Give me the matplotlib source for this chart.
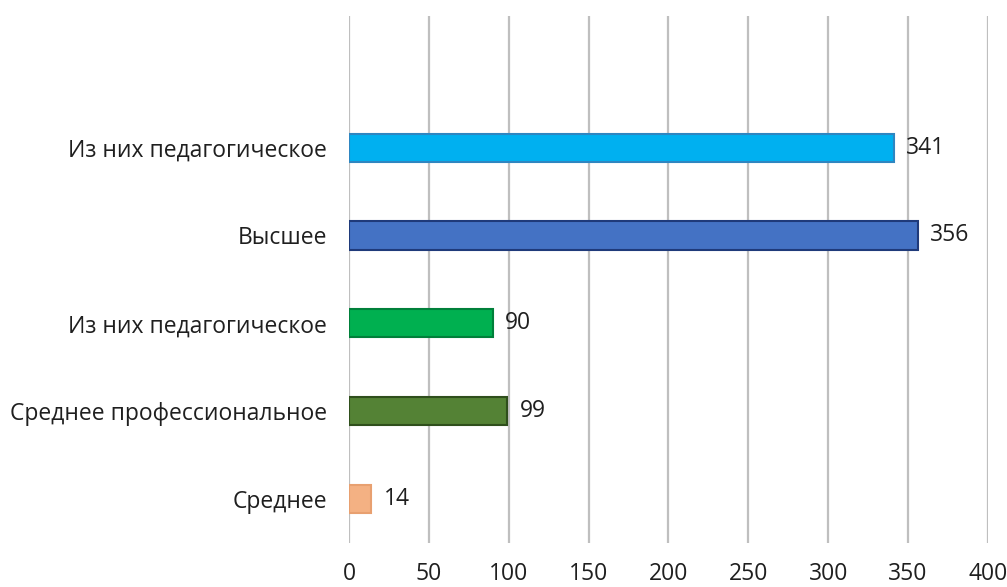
import matplotlib
matplotlib.use("Agg")
import matplotlib.pyplot as plt

categories = ["Среднее", "Среднее профессиональное", "Из них педагогическое",
              "Высшее", "Из них педагогическое"]
values = [14, 99, 90, 356, 341]
face_colors = ["#F4B183", "#548235", "#00B050", "#4472C4", "#00B0F0"]
edge_colors = ["#E8A070", "#2F4F1C", "#00803A", "#1F3A7A", "#2E86C1"]
x_ticks = [0, 50, 100, 150, 200, 250, 300, 350, 400]

plt.rcParams['font.family'] = ['Open Sans', 'DejaVu Sans']

fig = plt.figure(figsize=(10.07, 5.87), dpi=100)
ax = fig.add_axes([0.3466, 0.075, 0.6345, 0.898])

pos = list(range(len(categories)))
ax.barh(pos, values, height=0.32, color=face_colors, edgecolor=edge_colors,
        linewidth=1.5, zorder=3)

for p, v in zip(pos, values):
    ax.annotate(str(v), xy=(v, p), xytext=(9, 0), textcoords="offset points",
                va="center", ha="left", fontsize=16.5, color="#1f1f1f")

ax.set_xlim(0, 400)
ax.set_ylim(-0.5, 5.5)
ax.set_xticks(x_ticks)
ax.set_xticklabels([str(t) for t in x_ticks])
ax.set_yticks(pos)
ax.set_yticklabels(categories)
ax.tick_params(axis='both', length=0, labelsize=16.5, labelcolor="#1f1f1f")
ax.tick_params(axis='x', pad=14)
ax.tick_params(axis='y', pad=16)
ax.xaxis.grid(True, color="#BFBFBF", linewidth=1.6, zorder=0)
for s in ax.spines.values():
    s.set_visible(False)

fig.savefig("out.png", dpi=100)
